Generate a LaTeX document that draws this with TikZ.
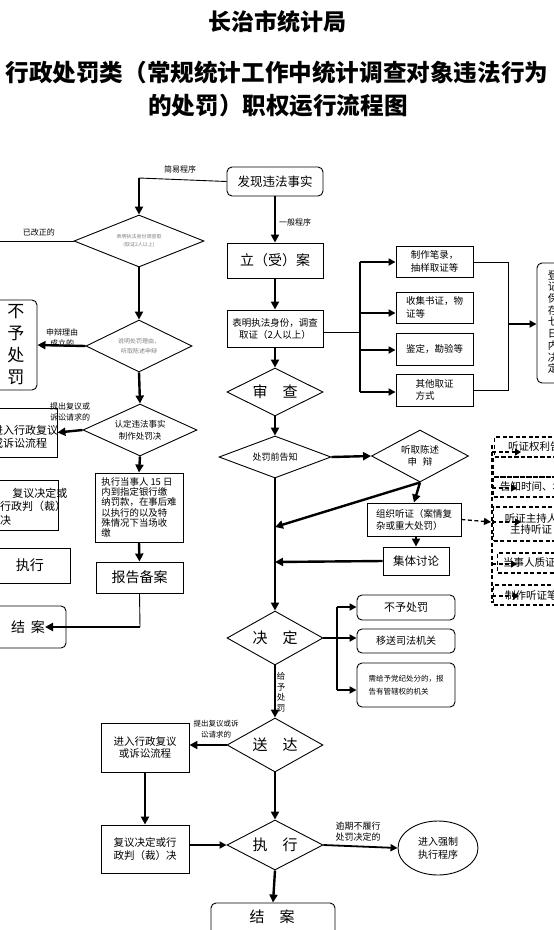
\documentclass[tikz,border=0pt]{standalone}
\usepackage{fontspec}
\setmainfont{Noto Sans CJK SC}
\usetikzlibrary{shapes.geometric,arrows.meta}
\newcommand\fsz[2]{\fontsize{#1}{#2}\selectfont}
\begin{document}
\begin{tikzpicture}[x=1pt,y=-1pt,
 every node/.style={inner sep=0pt},
 box/.style={draw,line width=0.9pt,align=center},
 rbox/.style={box,rounded corners=5pt},
 dia/.style={draw,diamond,line width=0.9pt,align=center,aspect=2},
 ar/.style={line width=2.4pt,-{Triangle[length=8pt,width=8pt]}},
 mar/.style={line width=1.8pt,-{Triangle[length=7pt,width=7pt]}},
 ln/.style={line width=0.9pt},
 dsh/.style={line width=1.3pt,dash pattern=on 4pt off 2.5pt},
 dbox/.style={draw,dsh},
 lbl/.style={font=\fsz{8}{10}},
 gtx/.style={text=gray},
]
\useasboundingbox (0,0) rectangle (554,930);
\clip (0,0) rectangle (554,930);

% ---------- title ----------
\node[font=\bfseries\fsz{23}{26}] (t1) at (277,22) {长治市统计局};
\node[font=\bfseries\fsz{23.6}{26}] (t2) at (277,73) {行政处罚类（常规统计工作中统计调查对象违法行为};
\node[font=\bfseries\fsz{23.6}{26}] (t3) at (278,106) {的处罚）职权运行流程图};

% ---------- main column ----------
\node[rbox,minimum width=96,minimum height=29,font=\fsz{12.5}{14}] (find) at (275,181.5) {发现违法事实};
\node[box,minimum width=96,minimum height=35,font=\fsz{14}{16}] (li) at (275,260.5) {立（受）案};
\node[box,minimum width=96,minimum height=37,font=\fsz{9.5}{12}] (biao) at (275,328.5) {表明执法身份，调查\\取证（2人以上）};
\node[dia,minimum width=96,minimum height=48,font=\fsz{15}{16}] (shen) at (275,392) {审\hspace{1em}查};
\node[dia,aspect=2.67,minimum width=112,minimum height=42,font=\fsz{9}{11}] (gz) at (275,457) {处罚前告知};
\node[dia,minimum width=97,minimum height=52,font=\fsz{9.5}{12}] (tq) at (420,456) {听取陈述\\申\hspace{0.6em}辩};
\node[box,minimum width=94,minimum height=33,font=\fsz{9.5}{12},align=left] (zz) at (414,519.5) {组织听证（案情复\\杂或重大处罚）};
\node[box,minimum width=66,minimum height=28,font=\fsz{11.5}{13}] (jt) at (416,561) {集体讨论};
\node[dia,minimum width=96,minimum height=54,font=\fsz{15}{16}] (jd) at (275,638) {决\hspace{1em}定};
\node[dia,minimum width=96,minimum height=54,font=\fsz{15}{16}] (sd) at (275,745) {送\hspace{1em}达};
\node[dia,minimum width=96,minimum height=50,font=\fsz{15}{16}] (zx2) at (275,845) {执\hspace{1em}行};
\node[rbox,minimum width=124,minimum height=47] (ja) at (273,926.5) {};
\node[font=\fsz{15}{16}] (jat) at (272,917) {结\hspace{1em}案};

% ---------- evidence boxes ----------
\node[box,minimum width=77,minimum height=31,font=\fsz{9.5}{12.5},align=left] (qa) at (434.5,261.5) {制作笔录，\\抽样取证等};
\node[box,minimum width=77,minimum height=31,font=\fsz{9.5}{12.5},align=left] (qb) at (434.5,307.5) {收集书证，物\\证等};
\node[box,minimum width=77,minimum height=32,font=\fsz{9.5}{12.5}] (qc) at (434.5,349) {鉴定，勘验等};
\node[box,minimum width=77,minimum height=32,font=\fsz{9.5}{12.5},align=left] (qd) at (434.5,390) {其他取证\\方式};
\node[rbox,minimum width=64,minimum height=120] (djbc) at (569,323) {};
\node[font=\fsz{10.5}{11.7},align=center] (djbct) at (553,322) {登\\记\\保\\存\\七\\日\\内\\决\\定};

\coordinate (br0) at (360,332);
\coordinate (brT) at (360,262);
\coordinate (brb) at (360,313);
\coordinate (brc) at (360,350);
\coordinate (brB) at (360,392);
\draw[ln] (biao.east |- br0) -- (br0);
\draw[line width=1.4pt] (brT) -- (brB);
\draw[mar] (brT) -- (brT -| qa.west);
\draw[mar] (brb) -- (brb -| qb.west);
\draw[mar] (brc) -- (brc -| qc.west);
\draw[mar] (brB) -- (brB -| qd.west);
\coordinate (rA) at (508,262);
\coordinate (rD) at (508,390);
\coordinate (rM) at (508,324);
\draw[ln] (qa.east |- rA) -- (rA) -- (rD) -- (qd.east |- rD);
\draw[mar] (rM) -- (rM -| djbc.west);

% ---------- main arrows ----------
\draw[ar] (find.south) -- (li.north);
\node[lbl] (ybcx) at (295,222) {一般程序};
\draw[ar] (li.south) -- (biao.north);
\draw[ar] (biao.south) -- (shen.north);
\draw[ar] (shen.south) -- (gz.north);
\draw[ar] (gz.east) -- (tq.west);
\draw[ar] (tq.south) -- (zz.north);
\coordinate (c5) at (275,527);
\draw[ar] (tq.south) -- (c5);
\draw[ar] (zz.south -| jt.north) -- (jt.north);
\coordinate (c6) at (275,562);
\draw[ar] (jt.west) -- (c6);
\draw[ar] (gz.south) -- (jd.north);
\draw[ar] (jd.south) -- (sd.north);
\node[font=\fsz{8.5}{10.5},align=center] (gycf) at (281,692) {给\\予\\处\\罚};
\draw[ar] (sd.south) -- (zx2.north);
\draw[ar] (zx2.south) -- (ja.north);

% ---------- hearing (dashed) ----------
\coordinate (c7) at (491,522);
\draw[dsh,-{Triangle[length=7pt,width=7pt]}] (zz.east) -- (c7);
\coordinate (v1) at (492,445);
\coordinate (v2) at (492,603);
\draw[dsh] (v1) -- (v2);
\node[dbox,anchor=west,minimum width=100,minimum height=20] (h1) at (494,447) {};
\node[dbox,anchor=west,minimum width=100,minimum height=20] (h2) at (493,467) {};
\node[dbox,anchor=west,minimum width=100,minimum height=20] (h3) at (493,487) {};
\node[dbox,anchor=west,minimum width=100,minimum height=34] (h4) at (493,524) {};
\node[dbox,anchor=west,minimum width=100,minimum height=20] (h5) at (497,563) {};
\node[dbox,anchor=west,minimum width=100,minimum height=20] (h6) at (493,595) {};
\node[anchor=west,font=\fsz{10.5}{12}] (h1t) at (508,447) {听证权利告知};
\node[anchor=west,font=\fsz{10.5}{12}] (h3t) at (500,487) {告知时间、地点};
\node[font=\fsz{10.5}{11.5},align=center] (h4t) at (531,524) {听证主持人\\主持听证};
\node[anchor=west,font=\fsz{10.5}{12}] (h5t) at (503,563) {当事人质证};
\node[anchor=west,font=\fsz{10.5}{12}] (h6t) at (505,595) {制作听证笔录};
\coordinate (a1) at (492,452); \coordinate (a1e) at (521,452);
\coordinate (a3) at (492,488); \coordinate (a3e) at (517,488);
\coordinate (a4) at (492,522); \coordinate (a4e) at (521,522);
\coordinate (a5) at (492,564); \coordinate (a5e) at (517,564);
\coordinate (a6) at (492,596); \coordinate (a6e) at (519,596);
\foreach \s/\e in {a1/a1e,a3/a3e,a4/a4e,a5/a5e,a6/a6e}
  \draw[dsh,-{Triangle[length=6pt,width=7pt]}] (\s) -- (\e);

% ---------- decision branches ----------
\node[rbox,minimum width=98,minimum height=25,font=\fsz{11}{13}] (bz) at (406,607.5) {不予处罚};
\node[rbox,minimum width=98,minimum height=24,font=\fsz{10}{12}] (ys) at (406,641) {移送司法机关};
\node[rbox,minimum width=98,minimum height=44,font=\fsz{7.5}{12.5},align=left] (dj) at (406,685) {需给予党纪处分的，报\\告有管辖权的机关};
\coordinate (b1) at (337,607);
\coordinate (b2) at (337,690);
\draw[line width=1.5pt] (b1) -- (b2);
\draw[mar] (jd.east) -- (jd.east -| ys.west);
\draw[mar] (b1) -- (b1 -| bz.west);
\draw[mar] (b2) -- (b2 -| dj.west);

% ---------- delivery / execution ----------
\node[box,minimum width=88,minimum height=49,font=\fsz{10.5}{12.5}] (fy2) at (145,747.5) {进入行政复议\\或诉讼流程};
\node[box,minimum width=88,minimum height=48,font=\fsz{10.5}{13}] (fyjd) at (145,849) {复议决定或行\\政判（裁）决};
\draw[ar] (sd.west) -- (sd.west -| fy2.east);
\node[font=\fsz{7.5}{11},align=center] (tcfy2) at (216,729) {提出复议或诉\\讼请求的};
\draw[ar] (fy2.south) -- (fyjd.north);
\draw[mar] (fyjd.east |- zx2.west) -- (zx2.west);
\node[draw,ellipse,line width=0.9pt,minimum width=80,minimum height=54,font=\fsz{10}{12.5},align=center] (qz) at (438,848) {进入强制\\执行程序};
\draw[mar] (zx2.east) -- (qz.west);
\node[font=\fsz{9}{11},align=center] (yq) at (358,832) {逾期不履行\\处罚决定的};

% ---------- simple procedure (left) ----------
\coordinate (c1) at (139,178);
\draw[ln] (find.west) -- (c1);
\node[lbl] (jycx) at (180,169) {简易程序};
\node[dia,aspect=2.5,minimum width=130,minimum height=52,font=\fsz{5}{8},gtx] (d1) at (139,241) {表明执法身份调查取\\(取证2人以上)};
\draw[ar] (c1) -- (d1.north);
\coordinate (c0) at (-5,241);
\draw[ln] (d1.west) -- (c0);
\node[lbl] (ygz) at (39,232) {已改正的};
\node[dia,minimum width=106,minimum height=52,font=\fsz{6}{10},gtx] (d2) at (139,346) {说明处罚理由，\\听取陈述申辩};
\draw[ar] (d1.south) -- (d2.north);
\node[rbox,minimum width=42,minimum height=90,font=\fsz{17}{22}] (byL) at (16,345) {不\\予\\处\\罚};
\draw[ar] (d2.west) -- (byL.east);
\node[font=\fsz{8}{11},align=center] (sbly) at (62,338) {申辩理由\\成立的};
\node[dia,aspect=2.2,minimum width=114,minimum height=52,font=\fsz{8.5}{12}] (d3) at (140,430) {认定违法事实\\制作处罚决};
\draw[ar] (d2.south) -- (d3.north);
\node[box,minimum width=72,minimum height=49] (fy1) at (21,432.5) {};
\node[anchor=west,font=\fsz{11}{13.5},align=left] (fy1t) at (-8,437) {进入行政复议\\或诉讼流程};
\draw[ar] (d3.west) -- (fy1.east);
\node[font=\fsz{8}{11},align=center] (tcfy1) at (70,412) {提出复议或\\诉讼请求的};
\node[box,minimum width=70,minimum height=50] (fyL) at (23,505) {};
\node[anchor=west,font=\fsz{11}{13.5},align=left] (fyLt) at (0,506.5) {\hspace{1.1em}复议决定或\\行政判（裁）\\决};
\node[box,minimum width=80,minimum height=35,font=\fsz{14}{16}] (zxL) at (30,565.5) {执行};
\node[rbox,minimum width=76,minimum height=42,font=\fsz{14}{16}] (jaL) at (28,627) {结\hspace{0.4em}案};
\node[box,minimum width=88,minimum height=69,font=\fsz{9.4}{10.2},align=left] (dc) at (139,507.5) {执行当事人 15 日\\内到指定银行缴\\纳罚款，在事后难\\以执行的以及特\\殊情况下当场收\\缴};
\draw[ar] (d3.south) -- (dc.north);
\node[box,minimum width=87,minimum height=31,font=\fsz{14}{16}] (bg) at (139.5,577.5) {报告备案};
\draw[ar] (dc.south) -- (bg.north);
\coordinate (c2) at (140,627);
\coordinate (c3) at (45,627);
\draw[ln] (bg.south) -- (c2);
\draw[ar] (c2) -- (c3);
\end{tikzpicture}
\end{document}
